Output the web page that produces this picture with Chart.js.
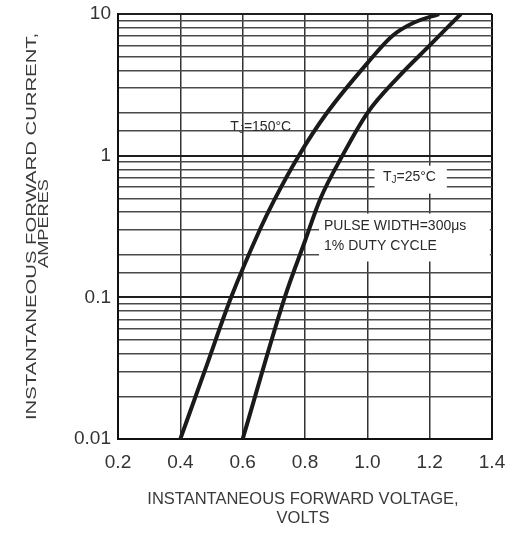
<!DOCTYPE html>
<html>
<head>
<meta charset="utf-8">
<script src="https://cdn.jsdelivr.net/npm/chart.js@4.4.1/dist/chart.umd.min.js"></script>
<style>
  body { margin: 0; background: #fff; }
  #wrap { width: 509px; height: 536px; }
</style>
</head>
<body>
<div id="wrap"><canvas id="diodeChart" width="509" height="536"></canvas></div>
<script>
// forward voltage (V) vs forward current (A)
const voltage150 = [0.40, 0.48, 0.563, 0.655, 0.70, 0.78, 0.87, 1.00, 1.08, 1.15, 1.23];
const current150 = [0.01, 0.031, 0.1, 0.3, 0.48, 1.0, 2.0, 4.5, 7.0, 8.7, 10];
const voltage25 = [0.60, 0.735, 0.80, 0.85, 0.92, 1.00, 1.10, 1.20, 1.30];
const current25 = [0.01, 0.1, 0.25, 0.5, 1.0, 2.0, 3.6, 6.0, 10];
const xTicks = [0.2, 0.4, 0.6, 0.8, 1.0, 1.2, 1.4];
const yDecades = [0.01, 0.1, 1, 10];

const FONT = '"Liberation Sans", Arial, sans-serif';

const isDecade = (v) => {
  const l = Math.log10(v);
  return Math.abs(l - Math.round(l)) < 1e-6;
};

function toPoints(xs, ys) {
  return xs.map((x, i) => ({ x: x, y: ys[i] }));
}

// T with subscript J, then the rest, centred on (cx, cy)
function drawTJ(ctx, cx, cy, rest) {
  ctx.font = "14px " + FONT;
  const wT = ctx.measureText("T").width;
  const wR = ctx.measureText(rest).width;
  ctx.font = "10px " + FONT;
  const wJ = ctx.measureText("J").width;
  let x = cx - (wT + wJ + wR) / 2;
  ctx.textAlign = "left";
  ctx.textBaseline = "middle";
  ctx.font = "14px " + FONT;
  ctx.fillText("T", x, cy);
  x += wT;
  ctx.font = "10px " + FONT;
  ctx.fillText("J", x, cy + 3);
  x += wJ;
  ctx.font = "14px " + FONT;
  ctx.fillText(rest, x, cy);
}

const notes = {
  id: "notes",
  beforeDatasetsDraw(chart) {
    const { ctx, scales: { x, y } } = chart;
    ctx.save();
    ctx.fillStyle = "#fff";
    // white patches behind the labels
    let x0 = x.getPixelForValue(0.845), x1 = x.getPixelForValue(1.393);
    let y0 = y.getPixelForValue(0.39), y1 = y.getPixelForValue(0.179);
    ctx.fillRect(x0, y0, x1 - x0, y1 - y0);
    x0 = x.getPixelForValue(1.023); x1 = x.getPixelForValue(1.255);
    y0 = y.getPixelForValue(0.85); y1 = y.getPixelForValue(0.54);
    ctx.fillRect(x0, y0, x1 - x0, y1 - y0);

    ctx.fillStyle = "#2a2a2a";
    drawTJ(ctx, x.getPixelForValue(0.658), y.getPixelForValue(1.58), "=150°C");
    drawTJ(ctx, x.getPixelForValue(1.135), y.getPixelForValue(0.7), "=25°C");

    ctx.font = "14px " + FONT;
    ctx.textAlign = "left";
    ctx.textBaseline = "middle";
    ctx.fillText("PULSE WIDTH=300μs", x.getPixelForValue(0.861), y.getPixelForValue(0.32));
    ctx.fillText("1% DUTY CYCLE", x.getPixelForValue(0.861), y.getPixelForValue(0.23));
    ctx.restore();
  },
  afterDraw(chart) {
    const { ctx, chartArea } = chart;
    const midY = (chartArea.top + chartArea.bottom) / 2;
    const midX = (chartArea.left + chartArea.right) / 2 - 2;
    ctx.save();
    ctx.fillStyle = "#3a3a3a";
    ctx.textAlign = "center";
    ctx.textBaseline = "middle";
    // y title, a little stretched along its length as in the source
    ctx.font = "14px " + FONT;
    ctx.save();
    ctx.translate(32, midY);
    ctx.rotate(-Math.PI / 2);
    ctx.scale(1.45, 1);
    ctx.fillText("INSTANTANEOUS FORWARD CURRENT,", 0, 0);
    ctx.restore();
    ctx.save();
    ctx.translate(44, midY - 3);
    ctx.rotate(-Math.PI / 2);
    ctx.scale(1.3, 1);
    ctx.fillText("AMPERES", 0, 0);
    ctx.restore();
    // x title
    ctx.font = "16.5px " + FONT;
    ctx.fillText("INSTANTANEOUS FORWARD VOLTAGE,", midX, 499);
    ctx.fillText("VOLTS", midX, 518);
    ctx.restore();
  }
};

const data = {
  datasets: [
    {
      label: "TJ=150°C",
      data: toPoints(voltage150, current150),
      borderColor: "#1a1a1a",
      borderWidth: 4,
      pointRadius: 0,
      cubicInterpolationMode: "monotone",
    },
    {
      label: "TJ=25°C",
      data: toPoints(voltage25, current25),
      borderColor: "#1a1a1a",
      borderWidth: 4,
      pointRadius: 0,
      cubicInterpolationMode: "monotone",
    },
  ],
};

const config = {
  type: "line",
  data: data,
  options: {
    responsive: false,
    animation: false,
    layout: { padding: { top: 14, right: 17, bottom: 0, left: 0 } },
    plugins: {
      legend: { display: false },
      tooltip: { enabled: false },
    },
    scales: {
      x: {
        type: "linear",
        min: 0.2,
        max: 1.4,
        afterFit(scale) {
          scale.height = 97;
          scale.paddingLeft = 0;
          scale.paddingRight = 0;
        },
        afterBuildTicks(scale) { scale.ticks = xTicks.map((v) => ({ value: v })); },
        ticks: {
          autoSkip: false,
          maxRotation: 0,
          padding: 12,
          color: "#333",
          font: { family: FONT, size: 19 },
          callback: (v) => Number(v).toFixed(1),
        },
        grid: {
          drawTicks: false,
          color: (c) => (c.tick && (c.tick.value <= 0.2 || c.tick.value >= 1.4) ? "#111" : "#333"),
          lineWidth: (c) => (c.tick && (c.tick.value <= 0.2 || c.tick.value >= 1.4) ? 2 : 1.5),
        },
        border: { color: "#111", width: 2 },
      },
      y: {
        type: "logarithmic",
        min: 0.01,
        max: 10,
        afterFit(scale) {
          scale.width = 118;
          scale.paddingTop = 0;
          scale.paddingBottom = 0;
        },
        ticks: {
          autoSkip: false,
          padding: 7,
          color: "#333",
          font: { family: FONT, size: 19 },
          callback: (v) => {
            const n = Number(v);
            if (!isDecade(n)) return "";
            const d = yDecades.find((t) => Math.abs(t - n) < t * 1e-6);
            return d === undefined ? "" : String(d);
          },
        },
        grid: {
          drawTicks: false,
          color: (c) => (c.tick && isDecade(c.tick.value) ? "#1e1e1e" : "#4a4a4a"),
          lineWidth: (c) => (c.tick && isDecade(c.tick.value) ? 2 : 1.4),
        },
        border: { color: "#111", width: 2 },
      },
    },
  },
  plugins: [notes],
};

new Chart(document.getElementById("diodeChart").getContext("2d"), config);
</script>
</body>
</html>
